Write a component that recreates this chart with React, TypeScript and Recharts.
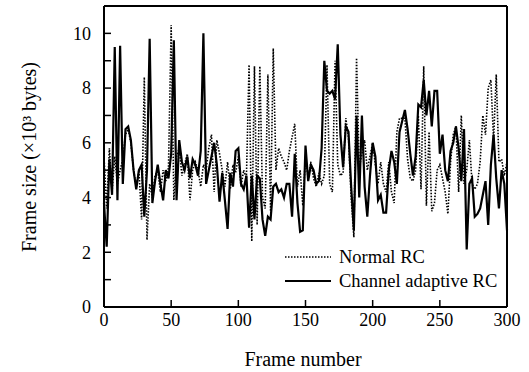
import React from 'react';
import { LineChart, Line, XAxis, YAxis, ReferenceLine, Legend } from 'recharts';

const FONT = "'Liberation Serif', 'DejaVu Serif', serif";

// frames are sampled every 2 frames, 0..300
const FRAME_STEP = 2;
const xTicks = [0, 50, 100, 150, 200, 250, 300];
const yTicks = [0, 1, 2, 3, 4, 5, 6, 7, 8, 9, 10];

// frame size, x10^3 bytes
const normalRC = [
  5.5, 3.6, 5.8, 4.2, 5.5, 4.5, 5.0, 5.4, 6.3, 6.5,
  6.0, 5.0, 4.4, 5.0, 3.2, 8.4, 2.45, 4.5, 4.0, 4.8,
  5.0, 4.2, 5.0, 4.6, 5.1, 10.3, 3.9, 5.5, 5.8, 4.8,
  5.2, 5.6, 3.9, 5.0, 5.3, 5.0, 4.4, 5.2, 5.0, 5.8,
  6.3, 4.2, 6.1, 5.6, 5.0, 4.4, 5.3, 4.3, 5.2, 4.9,
  5.5, 4.4, 5.0, 4.7, 8.85, 2.4, 8.8, 3.0, 8.8, 4.0,
  3.6, 8.5, 3.5, 9.45, 5.0, 5.8, 5.5, 5.3, 5.0, 5.7,
  6.2, 6.7, 4.4, 5.0, 3.7, 5.5, 4.7, 5.3, 4.7, 4.4,
  4.9, 4.5, 4.8, 8.85, 4.5, 4.2, 9.0, 5.2, 4.8, 4.9,
  6.9, 6.2, 4.0, 2.55, 9.1, 5.1, 5.6, 6.1, 5.0, 5.5,
  6.0, 5.2, 4.5, 5.3, 4.5, 4.2, 5.3, 4.2, 3.8, 6.4,
  6.9, 6.9, 6.9, 5.4, 4.7, 4.6, 5.0, 7.0, 4.3, 8.8,
  3.7, 6.4, 3.5, 3.8, 5.0, 5.2, 4.7, 4.2, 3.4, 5.3,
  6.3, 6.6, 4.2, 7.0, 4.5, 5.0, 6.1, 4.5, 4.3, 4.5,
  5.3, 7.0, 6.3, 8.0, 8.3, 6.1, 8.5, 5.3, 5.4, 4.8,
  5.3,
];

const adaptiveRC = [
  3.8, 2.2, 5.4, 4.1, 9.5, 3.9, 9.55, 4.5, 6.5, 6.6,
  6.1, 5.0, 4.3, 5.0, 5.2, 3.3, 5.0, 9.8, 3.8, 4.6,
  5.2, 4.5, 3.9, 5.0, 4.7, 5.6, 9.75, 3.9, 6.1, 5.3,
  5.0, 5.5, 4.7, 5.4, 5.2, 4.8, 5.7, 10.0, 4.5, 5.0,
  5.5, 6.0, 5.2, 3.85, 4.9, 3.9, 2.85, 4.9, 4.4, 5.7,
  5.8, 4.5, 4.3, 4.8, 2.9, 4.8, 3.2, 4.8, 4.7, 3.2,
  2.6, 3.3, 3.2, 4.4, 4.5, 4.2, 4.3, 4.0, 4.5, 4.5,
  3.3, 5.6, 3.8, 2.75, 2.8, 5.9, 4.6, 5.2, 5.0, 4.5,
  4.6, 5.8, 9.0, 7.9, 7.8, 7.9, 7.6, 9.6, 6.3, 5.1,
  6.6, 6.4, 4.4, 2.8, 7.0, 4.0, 7.0, 4.4, 3.3, 4.8,
  6.0, 5.5, 3.9, 4.1, 3.45, 3.45, 5.0, 5.7, 5.3, 4.5,
  6.4, 6.8, 7.2, 6.5, 5.6, 4.8, 5.5, 7.4, 7.3, 8.3,
  7.0, 7.9, 6.6, 7.9, 7.9, 5.6, 6.3, 5.0, 4.6, 5.7,
  6.0, 6.6, 5.8, 4.6, 6.5, 2.1, 4.5, 4.7, 3.3, 3.4,
  3.6, 4.1, 4.6, 3.0, 5.2, 6.3, 4.7, 3.6, 5.0, 4.5,
  2.8,
];

const seriesNames = ['Normal RC', 'Channel adaptive RC'];

const chartData = normalRC.map((v, i) => ({
  frame: i * FRAME_STEP,
  normal: v,
  adaptive: adaptiveRC[i],
}));

const DOTS = '1.5 1.5';

const renderYLabel = () => (
  <text
    x={36}
    y={157}
    transform="rotate(-90, 36, 157)"
    textAnchor="middle"
    style={{ fontFamily: FONT }}
    fontSize={20}
    fill="#000"
  >
    Frame size (×10³ bytes)
  </text>
);

const renderXLabel = () => (
  <text x={303} y={366} textAnchor="middle" style={{ fontFamily: FONT }} fontSize={20} fill="#000">
    Frame number
  </text>
);

const renderLegend = () => (
  <div style={{ fontFamily: FONT, fontSize: 18.5, color: '#000', lineHeight: '24px' }}>
    {seriesNames.map((name, i) => (
      <div key={name} style={{ display: 'flex', alignItems: 'center', height: 24 }}>
        <svg width={48} height={10} style={{ marginRight: 6 }}>
          <line
            x1={0}
            y1={5}
            x2={46}
            y2={5}
            stroke="#000"
            strokeWidth={i === 0 ? 1.6 : 2.2}
            strokeDasharray={i === 0 ? DOTS : undefined}
          />
        </svg>
        <span>{name}</span>
      </div>
    ))}
  </div>
);

const App: React.FC = () => {
  const tickStyle = { fill: '#000', fontSize: 18, style: { fontFamily: FONT } };
  return (
    <div
      style={{
        position: 'absolute',
        left: 0,
        top: 0,
        width: 529,
        height: 372,
        background: '#fff',
        fontFamily: FONT,
      }}
    >
      <LineChart
        width={529}
        height={372}
        data={chartData}
        margin={{ top: 6, right: 22, left: 0, bottom: 0 }}
        style={{ fontFamily: FONT }}
      >
        <XAxis
          dataKey="frame"
          type="number"
          domain={[0, 300]}
          ticks={xTicks}
          height={65}
          axisLine={{ stroke: '#000', strokeWidth: 2 }}
          tickLine={{ stroke: '#000', strokeWidth: 1.5 }}
          tickSize={-7}
          tickMargin={13}
          tick={tickStyle}
          label={renderXLabel}
        />
        <YAxis
          type="number"
          domain={[0, 11]}
          ticks={yTicks}
          width={104}
          interval={0}
          axisLine={{ stroke: '#000', strokeWidth: 2 }}
          tickLine={{ stroke: '#000', strokeWidth: 1.5 }}
          tickSize={-7}
          tickMargin={20}
          tick={tickStyle}
          tickFormatter={(v: number) => (v % 2 === 0 ? String(v) : '')}
          label={renderYLabel}
        />
        <ReferenceLine y={11} stroke="#000" strokeWidth={2} />
        <ReferenceLine x={300} stroke="#000" strokeWidth={2} />
        <Line
          type="linear"
          dataKey="normal"
          name={seriesNames[0]}
          stroke="#000"
          strokeWidth={1.6}
          strokeDasharray={DOTS}
          dot={false}
          isAnimationActive={false}
        />
        <Line
          type="linear"
          dataKey="adaptive"
          name={seriesNames[1]}
          stroke="#000"
          strokeWidth={2.2}
          dot={false}
          isAnimationActive={false}
        />
        <Legend
          layout="vertical"
          align="center"
          verticalAlign="middle"
          content={renderLegend}
          wrapperStyle={{ left: 285, top: 245, width: 230 }}
        />
      </LineChart>
    </div>
  );
};

export default App;
